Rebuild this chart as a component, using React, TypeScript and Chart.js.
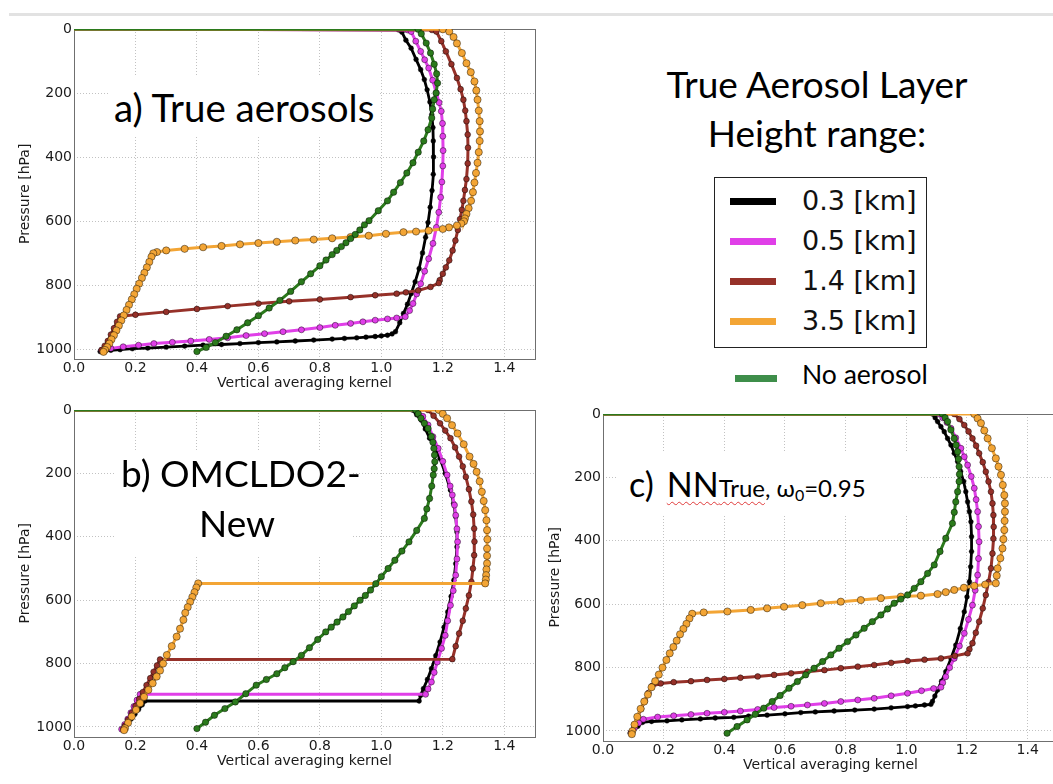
import React, { useEffect, useRef } from 'react';
import { Chart, registerables } from 'chart.js';

Chart.register(...registerables);

// ---------- labels / ticks ----------
const seriesLabels = ['0.3 [km]', '0.5 [km]', '1.4 [km]', '3.5 [km]'];
const noAerosolLabel = 'No aerosol';
const xTitle = 'Vertical averaging kernel';
const yTitle = 'Pressure [hPa]';
const xMin = 0;
const xMax = 1.5;
const yMin = 0;
const yMax = 1030;
const xTickValues = [0, 0.2, 0.4, 0.6, 0.8, 1.0, 1.2, 1.4];
const yTickValues = [0, 200, 400, 600, 800, 1000];

// ---------- data: [kernel, pressure hPa] ----------
// a) True aerosols
const aBlack = [[0,0],[1.056,3],[1.067,10],[1.08,35],[1.097,60],[1.113,95],[1.128,127],[1.14,158],[1.149,190],[1.158,228],[1.164,267],[1.168,308],[1.169,350],[1.17,400],[1.169,454],[1.165,505],[1.159,557],[1.152,605],[1.144,651],[1.134,700],[1.123,749],[1.11,790],[1.097,827],[1.085,860],[1.072,889],[1.06,918],[1.046,946],[1.035,953],[1.02,957],[1.0,959],[0.98,961],[0.95,963],[0.92,965],[0.88,967],[0.84,969],[0.78,972],[0.72,975],[0.66,978],[0.6,980],[0.54,983],[0.48,986],[0.42,988],[0.36,991],[0.3,994],[0.24,997],[0.19,999],[0.15,1002],[0.12,1004],[0.1,1006],[0.085,1008]];
const aMagenta = [[0,0],[1.085,3],[1.097,8],[1.112,38],[1.128,70],[1.141,96],[1.154,122],[1.167,160],[1.179,200],[1.188,230],[1.195,257],[1.199,295],[1.2,335],[1.201,380],[1.2,428],[1.197,478],[1.193,526],[1.187,573],[1.179,620],[1.168,670],[1.154,718],[1.141,757],[1.128,796],[1.115,828],[1.103,858],[1.092,880],[1.078,899],[1.05,903],[1.02,906],[0.98,910],[0.94,915],[0.9,920],[0.85,926],[0.8,933],[0.74,940],[0.68,946],[0.62,952],[0.56,958],[0.5,965],[0.44,970],[0.38,975],[0.32,979],[0.26,983],[0.21,988],[0.16,993],[0.12,998],[0.1,1001],[0.09,1004]];
const aBrown = [[0,0],[1.165,3],[1.179,8],[1.195,38],[1.21,70],[1.228,110],[1.246,153],[1.258,188],[1.267,221],[1.273,255],[1.277,288],[1.281,330],[1.282,371],[1.281,420],[1.277,469],[1.272,503],[1.267,537],[1.262,565],[1.256,594],[1.249,628],[1.241,661],[1.232,692],[1.221,723],[1.21,745],[1.2,765],[1.19,785],[1.187,794],[1.16,806],[1.12,817],[1.08,823],[1.05,827],[0.98,832],[0.9,838],[0.8,845],[0.7,851],[0.6,858],[0.5,866],[0.4,875],[0.3,884],[0.2,893],[0.15,898],[0.14,915],[0.13,935],[0.12,955],[0.11,975],[0.1,990],[0.09,1003]];
const aOrange = [[0,0],[1.2,1],[1.221,8],[1.235,25],[1.246,45],[1.262,75],[1.277,107],[1.291,135],[1.303,164],[1.309,192],[1.313,221],[1.317,255],[1.32,288],[1.321,320],[1.32,350],[1.317,385],[1.313,418],[1.308,450],[1.303,480],[1.298,510],[1.292,537],[1.284,560],[1.277,578],[1.272,592],[1.269,601],[1.26,608],[1.246,614],[1.22,620],[1.2,625],[1.154,630],[1.113,633],[1.072,635],[1.015,640],[0.959,646],[0.9,650],[0.84,654],[0.78,658],[0.72,661],[0.66,665],[0.6,669],[0.54,673],[0.48,678],[0.42,682],[0.36,687],[0.3,692],[0.27,697],[0.258,701],[0.252,712],[0.245,728],[0.237,745],[0.229,762],[0.221,778],[0.212,796],[0.204,812],[0.196,829],[0.188,845],[0.179,862],[0.171,878],[0.162,895],[0.154,911],[0.146,927],[0.138,942],[0.13,957],[0.122,970],[0.115,983],[0.108,994],[0.101,1003],[0.096,1009]];
const aGreen = [[0,0],[1.12,1],[1.13,15],[1.146,44],[1.16,75],[1.172,110],[1.18,140],[1.183,169],[1.178,200],[1.172,221],[1.167,250],[1.164,278],[1.152,315],[1.138,350],[1.12,385],[1.103,418],[1.083,450],[1.062,480],[1.04,510],[1.02,537],[0.99,568],[0.96,599],[0.945,612],[0.93,628],[0.915,642],[0.9,655],[0.885,668],[0.87,680],[0.855,692],[0.84,705],[0.82,722],[0.8,740],[0.77,765],[0.74,790],[0.705,820],[0.67,848],[0.635,872],[0.6,896],[0.565,918],[0.53,940],[0.495,960],[0.46,980],[0.43,995],[0.4,1008]];

// b) OMCLDO2-New
const bBlack = [[0,0],[1.101,0],[1.115,15],[1.13,32],[1.143,60],[1.157,89],[1.174,120],[1.191,153],[1.208,200],[1.225,253],[1.235,295],[1.242,337],[1.246,385],[1.246,432],[1.242,485],[1.236,537],[1.227,588],[1.216,637],[1.204,685],[1.191,732],[1.177,775],[1.163,816],[1.15,850],[1.137,879],[1.128,900],[1.123,918],[0.231,918],[0.222,930],[0.21,945],[0.198,960],[0.186,975],[0.174,990],[0.162,1002],[0.157,1008]];
const bMagenta = [[0,0],[1.118,0],[1.135,20],[1.152,47],[1.168,84],[1.185,121],[1.2,162],[1.214,205],[1.224,240],[1.231,268],[1.238,300],[1.242,332],[1.246,375],[1.248,416],[1.246,470],[1.242,521],[1.234,570],[1.225,616],[1.216,665],[1.208,711],[1.196,752],[1.182,795],[1.172,828],[1.163,858],[1.152,880],[1.144,897],[0.215,897],[0.205,915],[0.195,935],[0.185,955],[0.175,975],[0.165,992],[0.155,1007]];
const bBrown = [[0,0],[1.152,0],[1.17,18],[1.191,42],[1.208,65],[1.225,89],[1.24,118],[1.253,147],[1.265,178],[1.275,211],[1.285,250],[1.293,289],[1.299,330],[1.302,374],[1.303,415],[1.302,458],[1.298,500],[1.293,542],[1.285,585],[1.275,626],[1.265,665],[1.253,705],[1.242,745],[1.231,786],[0.28,787],[0.27,806],[0.259,826],[0.248,846],[0.236,868],[0.224,890],[0.212,912],[0.2,934],[0.188,956],[0.176,978],[0.166,996],[0.16,1007]];
const bOrange = [[0,0],[1.187,0],[1.2,12],[1.214,26],[1.23,48],[1.248,74],[1.268,108],[1.287,147],[1.3,170],[1.31,195],[1.32,225],[1.327,258],[1.333,287],[1.338,316],[1.342,348],[1.344,379],[1.345,408],[1.344,437],[1.344,460],[1.344,484],[1.342,503],[1.341,521],[1.34,535],[1.338,547],[0.404,547],[0.398,560],[0.392,575],[0.385,590],[0.378,605],[0.37,622],[0.362,640],[0.356,662],[0.345,690],[0.334,715],[0.318,745],[0.302,773],[0.29,800],[0.28,822],[0.269,841],[0.256,862],[0.242,883],[0.228,905],[0.215,925],[0.202,946],[0.188,967],[0.176,987],[0.166,1004],[0.163,1010]];
const bGreen = [[0,0],[1.112,0],[1.12,12],[1.129,26],[1.14,42],[1.152,58],[1.163,84],[1.168,102],[1.171,121],[1.173,142],[1.174,163],[1.172,185],[1.169,205],[1.164,240],[1.157,279],[1.148,312],[1.14,342],[1.115,380],[1.09,416],[1.067,445],[1.044,474],[1.022,500],[1.0,526],[0.982,548],[0.965,568],[0.948,585],[0.931,600],[0.912,618],[0.893,636],[0.875,653],[0.856,669],[0.837,685],[0.819,700],[0.793,724],[0.766,750],[0.74,774],[0.713,794],[0.686,813],[0.66,832],[0.626,850],[0.593,868],[0.559,895],[0.525,921],[0.491,942],[0.457,963],[0.428,985],[0.4,1005]];

// c) NN True, w0 = 0.95
const cBlack = [[0,0],[1.086,0],[1.095,12],[1.103,24],[1.114,40],[1.125,56],[1.136,77],[1.147,98],[1.158,124],[1.169,150],[1.179,181],[1.189,213],[1.196,245],[1.202,277],[1.208,308],[1.213,340],[1.215,387],[1.215,434],[1.212,482],[1.208,529],[1.2,577],[1.191,624],[1.178,677],[1.163,729],[1.147,771],[1.13,813],[1.116,843],[1.103,871],[1.094,890],[1.086,907],[1.081,916],[1.06,918],[1.03,921],[1.004,923],[0.95,927],[0.894,931],[0.83,934],[0.762,937],[0.7,940],[0.652,942],[0.6,946],[0.541,950],[0.48,953],[0.431,957],[0.37,959],[0.321,962],[0.26,965],[0.211,968],[0.16,970],[0.13,973],[0.115,985],[0.1,998],[0.09,1007]];
const cMagenta = [[0,0],[1.108,0],[1.12,12],[1.134,27],[1.147,45],[1.163,75],[1.18,108],[1.191,135],[1.202,161],[1.214,197],[1.224,234],[1.23,270],[1.235,308],[1.238,355],[1.24,403],[1.238,456],[1.235,508],[1.227,556],[1.218,603],[1.205,648],[1.191,692],[1.175,732],[1.158,771],[1.143,800],[1.13,829],[1.12,848],[1.114,862],[1.09,866],[1.05,873],[1.004,881],[0.95,889],[0.894,897],[0.84,902],[0.784,907],[0.73,913],[0.674,918],[0.62,922],[0.564,926],[0.51,932],[0.453,937],[0.4,941],[0.343,944],[0.29,948],[0.233,952],[0.18,956],[0.133,963],[0.118,975],[0.104,990],[0.092,1006]];
const cBrown = [[0,0],[1.158,0],[1.175,16],[1.191,35],[1.205,55],[1.218,77],[1.23,100],[1.24,124],[1.252,152],[1.262,182],[1.271,213],[1.279,245],[1.284,282],[1.287,319],[1.288,356],[1.287,393],[1.284,440],[1.279,487],[1.271,530],[1.262,571],[1.252,613],[1.24,655],[1.229,690],[1.218,723],[1.208,742],[1.202,755],[1.16,763],[1.114,771],[1.06,775],[1.004,779],[0.95,785],[0.894,792],[0.84,797],[0.784,802],[0.73,808],[0.674,813],[0.62,818],[0.564,823],[0.51,828],[0.453,832],[0.4,836],[0.343,839],[0.29,843],[0.233,846],[0.19,850],[0.162,858],[0.15,880],[0.138,905],[0.126,930],[0.114,955],[0.103,980],[0.093,1005]];
const cOrange = [[0,0],[1.224,0],[1.235,14],[1.246,29],[1.257,52],[1.268,77],[1.282,108],[1.295,140],[1.304,166],[1.312,192],[1.318,224],[1.323,256],[1.325,282],[1.325,308],[1.324,337],[1.323,366],[1.32,395],[1.317,424],[1.31,455],[1.301,487],[1.298,510],[1.295,534],[1.26,538],[1.224,542],[1.19,548],[1.158,555],[1.13,562],[1.103,568],[1.048,573],[0.982,576],[0.916,581],[0.85,587],[0.784,592],[0.718,597],[0.657,603],[0.597,608],[0.541,613],[0.487,618],[0.41,623],[0.332,626],[0.294,630],[0.285,645],[0.275,662],[0.265,678],[0.254,695],[0.243,715],[0.232,735],[0.22,755],[0.209,776],[0.196,800],[0.184,822],[0.172,843],[0.16,862],[0.148,885],[0.136,907],[0.124,930],[0.113,955],[0.104,980],[0.097,1000],[0.095,1010]];
const cGreen = [[0,0],[1.119,0],[1.128,12],[1.136,24],[1.147,50],[1.158,77],[1.164,98],[1.169,119],[1.172,142],[1.174,166],[1.175,190],[1.174,213],[1.169,245],[1.163,277],[1.158,310],[1.152,345],[1.13,392],[1.111,434],[1.092,476],[1.07,503],[1.048,529],[1.026,550],[1.004,571],[0.982,584],[0.96,597],[0.938,615],[0.916,634],[0.888,655],[0.861,676],[0.834,697],[0.806,718],[0.778,739],[0.751,760],[0.724,781],[0.696,802],[0.668,823],[0.641,844],[0.613,865],[0.584,888],[0.558,907],[0.53,928],[0.502,947],[0.475,965],[0.442,986],[0.409,1007]];

// ---------- styles ----------
type Style = { color: string; width: number; r: number };
const sBlack: Style = { color: '#000000', width: 2.8, r: 2.4 };
const sMagenta: Style = { color: '#e03fe8', width: 3, r: 3 };
const sBrown: Style = { color: '#963129', width: 3, r: 2.9 };
const sOrange: Style = { color: '#f3a535', width: 3, r: 3.6 };
const sGreen: Style = { color: '#2b7a1c', width: 3, r: 3.2 };
const legendGreen = '#3e8e4a';

type Geo = { left: number; top: number; w: number; h: number; padTop: number; padRight: number; yAxisW: number; xAxisH: number; xTitlePad: number };
const geoA: Geo = { left: 0, top: 0, w: 545, h: 395, padTop: 29, padRight: 10, yAxisW: 74, xAxisH: 36.4, xTitlePad: 3.1 };
const geoB: Geo = { left: 0, top: 390, w: 545, h: 390, padTop: 20, padRight: 10, yAxisW: 74, xAxisH: 43.5, xTitlePad: 10.6 };
const geoC: Geo = { left: 530, top: 390, w: 540, h: 394, padTop: 24, padRight: 12, yAxisW: 73, xAxisH: 43.5, xTitlePad: 10.6 };

const tickFont = { family: 'DejaVu Sans', size: 14 };

const framePlugin = {
  id: 'frame',
  beforeDatasetsDraw(chart: any) {
    const { ctx, chartArea } = chart;
    const l = Math.round(chartArea.left) + 0.5;
    const t = Math.round(chartArea.top) + 0.5;
    const r = Math.round(chartArea.right) + 0.5;
    const b = Math.round(chartArea.bottom) + 0.5;
    ctx.save();
    ctx.strokeStyle = '#6f6f6f';
    ctx.lineWidth = 1;
    ctx.strokeRect(l, t, r - l, b - t);
    ctx.restore();
  },
};

function toDataset(points: number[][], st: Style, label: string) {
  const data = points.map(([k, p]) => ({ x: k, y: p }));
  return {
    label,
    data,
    showLine: true,
    borderColor: st.color,
    borderWidth: st.width,
    backgroundColor: st.color,
    pointBackgroundColor: st.color,
    pointBorderColor: 'rgba(0,0,0,0.55)',
    pointBorderWidth: 0.8,
    pointRadius: data.map((_, i) => (i === 0 ? 0 : st.r)),
    pointHoverRadius: 0,
    tension: 0,
  };
}

function buildConfig(series: number[][][], geo: Geo) {
  const [bk, mg, br, or, gr] = series;
  return {
    type: 'scatter',
    data: {
      datasets: [
        toDataset(gr, sGreen, noAerosolLabel),
        toDataset(or, sOrange, seriesLabels[3]),
        toDataset(br, sBrown, seriesLabels[2]),
        toDataset(mg, sMagenta, seriesLabels[1]),
        toDataset(bk, sBlack, seriesLabels[0]),
      ],
    },
    options: {
      animation: false,
      responsive: false,
      maintainAspectRatio: false,
      devicePixelRatio: 1,
      events: [],
      layout: { padding: { left: 0, top: geo.padTop, right: geo.padRight, bottom: 0 } },
      plugins: { legend: { display: false }, tooltip: { enabled: false }, title: { display: false } },
      scales: {
        x: {
          type: 'linear',
          min: xMin,
          max: xMax,
          afterBuildTicks: (s: any) => { s.ticks = xTickValues.map((v) => ({ value: v })); },
          ticks: {
            autoSkip: false,
            maxRotation: 0,
            padding: 1,
            color: '#1a1a1a',
            font: tickFont,
            callback: (v: number) => Number(v).toFixed(1),
          },
          grid: { color: '#c2c2c2', lineWidth: 1, drawTicks: false },
          border: { display: false, dash: [1, 2] },
          title: { display: true, text: xTitle, color: '#1a1a1a', font: tickFont, padding: { top: 0, bottom: geo.xTitlePad } },
          afterFit: (s: any) => { s.height = geo.xAxisH; },
        },
        y: {
          type: 'linear',
          reverse: true,
          min: yMin,
          max: yMax,
          afterBuildTicks: (s: any) => { s.ticks = yTickValues.map((v) => ({ value: v })); },
          ticks: {
            autoSkip: false,
            padding: 2,
            color: '#1a1a1a',
            font: tickFont,
            callback: (v: number) => String(v),
          },
          grid: { color: '#c2c2c2', lineWidth: 1, drawTicks: false },
          border: { display: false, dash: [1, 2] },
          title: { display: true, text: yTitle, color: '#1a1a1a', font: tickFont, padding: { top: 17, bottom: 0 } },
          afterFit: (s: any) => { s.width = geo.yAxisW; },
        },
      },
    },
    plugins: [framePlugin],
  } as any;
}

function Panel({ series, geo }: { series: number[][][]; geo: Geo }) {
  const ref = useRef<HTMLCanvasElement>(null);
  useEffect(() => {
    if (!ref.current) return;
    const chart = new Chart(ref.current, buildConfig(series, geo));
    return () => chart.destroy();
  }, []);
  return (
    <canvas
      ref={ref}
      width={geo.w}
      height={geo.h}
      style={{ position: 'absolute', left: geo.left, top: geo.top, width: geo.w, height: geo.h }}
    />
  );
}

const abs = (o: React.CSSProperties): React.CSSProperties => ({ position: 'absolute', margin: 0, whiteSpace: 'nowrap', ...o });

export default function App() {
  const legendRows = [
    { label: seriesLabels[0], color: sBlack.color },
    { label: seriesLabels[1], color: sMagenta.color },
    { label: seriesLabels[2], color: sBrown.color },
    { label: seriesLabels[3], color: sOrange.color },
  ];
  return (
    <div style={{ position: 'fixed', left: 0, top: 0, width: 1053, height: 784, overflow: 'hidden', background: '#ffffff' }}>
      <div style={abs({ left: 9, top: 13, width: 1044, height: 3, background: '#e2e2e2' })} />

      <Panel series={[aBlack, aMagenta, aBrown, aOrange, aGreen]} geo={geoA} />
      <Panel series={[bBlack, bMagenta, bBrown, bOrange, bGreen]} geo={geoB} />
      <Panel series={[cBlack, cMagenta, cBrown, cOrange, cGreen]} geo={geoC} />

      {/* panel labels */}
      <div style={abs({ left: 108, top: 77, width: 272, height: 60, background: '#fff' })} />
      <div style={abs({ left: 114, top: 88, fontFamily: 'Lato', fontSize: 38.5, lineHeight: 1 })}>a) True aerosols</div>

      <div style={abs({ left: 115, top: 450, width: 237, height: 105, background: '#fff' })} />
      <div style={abs({ left: 121, top: 454.3, fontFamily: 'Lato', fontSize: 37, lineHeight: 1 })}>b) OMCLDO2-</div>
      <div style={abs({ left: 199, top: 504.3, fontFamily: 'Lato', fontSize: 37, lineHeight: 1 })}>New</div>

      <div style={abs({ left: 617, top: 453, width: 294, height: 62, background: '#fff' })} />
      <div style={abs({ left: 629, top: 466.5, fontFamily: 'Lato', fontSize: 34, lineHeight: '34px' })}>
        c)
        <span style={{ marginLeft: 13, textDecoration: 'underline wavy #e03a3a', textDecorationThickness: '1px', textUnderlineOffset: '4px' }}>
          NN<span style={{ fontSize: 24 }}>True</span>
        </span>
        <span style={{ fontSize: 24 }}>, ω<sub style={{ fontSize: 16, verticalAlign: '-4px' }}>0</sub>=0.95</span>
      </div>

      {/* legend */}
      <div style={abs({ left: 617, top: 65.2, width: 400, textAlign: 'center', fontFamily: 'Lato', fontSize: 37, lineHeight: 1 })}>True Aerosol Layer</div>
      <div style={abs({ left: 617, top: 114.2, width: 400, textAlign: 'center', fontFamily: 'Lato', fontSize: 37, lineHeight: 1 })}>Height range:</div>
      <div style={abs({ left: 714, top: 177, width: 213, height: 171, border: '1.5px solid #222', boxSizing: 'border-box' })} />
      {legendRows.map((row, i) => (
        <React.Fragment key={row.label}>
          <div style={abs({ left: 730, top: 197.5 + i * 40, width: 46, height: 7, background: row.color })} />
          <div style={abs({ left: 802, top: 187.2 + i * 40, fontFamily: 'DejaVu Sans', fontSize: 27, lineHeight: 1, color: '#111' })}>{row.label}</div>
        </React.Fragment>
      ))}
      <div style={abs({ left: 735, top: 374.5, width: 42, height: 7, background: legendGreen })} />
      <div style={abs({ left: 802, top: 360.8, fontFamily: 'Lato', fontSize: 26.5, lineHeight: 1 })}>{noAerosolLabel}</div>
    </div>
  );
}
